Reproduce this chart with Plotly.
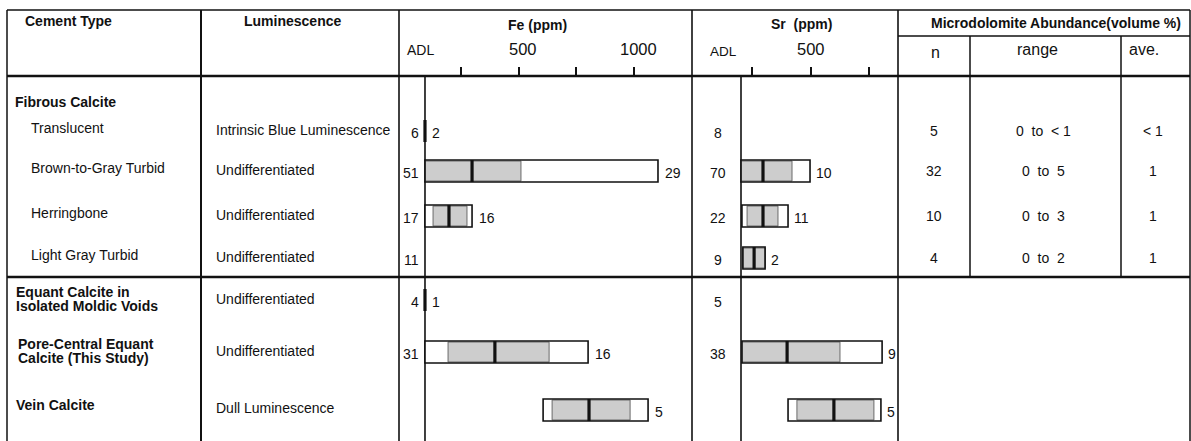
import plotly.graph_objects as go

# ---------------- data ----------------
cement_groups = ["Fibrous Calcite"]
cement_types = ["Translucent", "Brown-to-Gray Turbid", "Herringbone", "Light Gray Turbid",
                "Equant Calcite in|Isolated Moldic Voids", "Pore-Central Equant|Calcite (This Study)",
                "Vein Calcite"]
luminescence = ["Intrinsic Blue Luminescence", "Undifferentiated", "Undifferentiated",
                "Undifferentiated", "Undifferentiated", "Undifferentiated", "Dull Luminescence"]

ADL_FE = 94
ADL_SR = 203

fe_n_below = [6, 51, 17, 11, 4, 31, None]
fe_n_above = [2, 29, 16, None, 1, 16, 5]
fe_min = [None, 94, 94, None, None, 94, 606]
fe_max = [None, 1104, 298, None, None, 801, 1061]
fe_sd_lo = [None, 94, 129, None, None, 194, 645]
fe_sd_hi = [None, 510, 276, None, None, 632, 983]
fe_mean = [94, 298, 198, None, 94, 397, 805]

sr_n_below = [8, 70, 22, 9, 5, 38, None]
sr_n_above = [None, 10, 11, 2, None, 9, 5]
sr_min = [None, 203, 207, 211, None, 207, 404]
sr_max = [None, 498, 404, 306, None, 806, 801]
sr_sd_lo = [None, 203, 229, 211, None, 207, 442]
sr_sd_hi = [None, 421, 361, 306, None, 626, 771]
sr_mean = [None, 297, 297, 259, None, 400, 600]

md_n = ["5", "32", "10", "4"]
md_range = ["0  to  < 1", "0  to  5", "0  to  3", "0  to  2"]
md_ave = ["< 1", "1", "1", "1"]

fe_ticks = [250, 500, 750, 1000]
fe_tick_labels = {500: "500", 1000: "1000"}
sr_ticks = [250, 500, 750]
sr_tick_labels = {500: "500"}

# ---------------- layout constants ----------------
W, H = 1191, 441
def X(px): return px / W
def Y(py): return 1 - py / H

HEAD_BOT = 76
row_pos = [131, 171, 216, 258, 300, 352, 410]   # vertical slot of each row (px units of y axis)
BAR_H = 22
FONT = "Liberation Sans, Arial, Helvetica, sans-serif"
BLACK = "#111111"
GRAY_FILL = "#cdcdcd"
GRAY_LINE = "#6a6a6a"
FS = 14

fe_range = [(399 - 403.3) / 0.2307, (692 - 403.3) / 0.2307]
sr_range = [(692 - 693.5) / 0.234, (898 - 693.5) / 0.234]

fig = go.Figure()

def add_bars(xa, mins, maxs, lo, hi, means):
    idx = [i for i, v in enumerate(mins) if v is not None]
    ys = [row_pos[i] for i in idx]
    fig.add_trace(go.Bar(orientation="h", y=ys, base=[mins[i] for i in idx],
                         x=[maxs[i] - mins[i] for i in idx], width=BAR_H,
                         marker=dict(color="white", line=dict(width=0)),
                         xaxis=xa, yaxis="y", hoverinfo="skip", showlegend=False))
    idx2 = [i for i, v in enumerate(lo) if v is not None]
    fig.add_trace(go.Bar(orientation="h", y=[row_pos[i] for i in idx2], base=[lo[i] for i in idx2],
                         x=[hi[i] - lo[i] for i in idx2], width=BAR_H - 2,
                         marker=dict(color=GRAY_FILL, line=dict(color=GRAY_LINE, width=1)),
                         xaxis=xa, yaxis="y", hoverinfo="skip", showlegend=False))
    fig.add_trace(go.Bar(orientation="h", y=ys, base=[mins[i] for i in idx],
                         x=[maxs[i] - mins[i] for i in idx], width=BAR_H,
                         marker=dict(color="rgba(0,0,0,0)", line=dict(color=BLACK, width=1.6)),
                         xaxis=xa, yaxis="y", hoverinfo="skip", showlegend=False))
    mx, my = [], []
    for i, m in enumerate(means):
        if m is None:
            continue
        mx += [m, m, None]
        my += [row_pos[i] - BAR_H / 2, row_pos[i] + BAR_H / 2, None]
    fig.add_trace(go.Scatter(x=mx, y=my, mode="lines", line=dict(color=BLACK, width=3.2),
                             xaxis=xa, yaxis="y", hoverinfo="skip", showlegend=False))

add_bars("x", fe_min, fe_max, fe_sd_lo, fe_sd_hi, fe_mean)
add_bars("x2", sr_min, sr_max, sr_sd_lo, sr_sd_hi, sr_mean)

ann = []
def txt(text, x, y, xanchor="left", size=FS, bold=False, xref="paper", yref="paper",
        xshift=0, yshift=0):
    ann.append(dict(text=f"<b>{text}</b>" if bold else text, x=x, y=y, xref=xref, yref=yref,
                    xanchor=xanchor, yanchor="middle", showarrow=False, xshift=xshift,
                    yshift=yshift, font=dict(family=FONT, size=size, color=BLACK)))

# header
txt("Cement Type", X(23), Y(21), bold=True)
txt("Luminescence", X(242), Y(21), bold=True)
txt("Fe (ppm)", X(537), Y(25), xanchor="center", bold=True)
txt("Sr  (ppm)", X(801), Y(24), xanchor="center", bold=True)
txt("Microdolomite Abundance(volume %)", X(1056), Y(23), xanchor="center", bold=True)
txt("n", X(935), Y(53), xanchor="center", size=16)
txt("range", X(1037), Y(50), xanchor="center", size=16)
txt("ave.", X(1127), Y(50), xanchor="left", size=16)
txt("ADL", X(405), Y(50), size=14)
txt("ADL", X(708), Y(51), size=13.5)
for v, lab in fe_tick_labels.items():
    txt(lab, v, Y(49), xanchor="center", xref="x", size=16.5, xshift=4)
for v, lab in sr_tick_labels.items():
    txt(lab, v, Y(49), xanchor="center", xref="x2", size=16.5, xshift=1)

# cement type column
txt(cement_groups[0], X(13), Y(102), bold=True)
for i, name in enumerate(cement_types):
    if "|" in name:
        l1, l2 = name.split("|")
        xx = X(14) if i == 4 else X(16)
        txt(l1, xx, row_pos[i], yref="y", bold=True, yshift=8)
        txt(l2, xx, row_pos[i], yref="y", bold=True, yshift=-6)
    elif i == len(cement_types) - 1:
        txt(name, X(14), row_pos[i], yref="y", bold=True, yshift=5)
    else:
        txt(name, X(29), row_pos[i], yref="y", yshift=3)

# luminescence column
for i, lum in enumerate(luminescence):
    txt(lum, X(214), row_pos[i], yref="y", yshift=1 if i < 6 else 2)

# count labels
for i in range(len(row_pos)):
    if fe_n_below[i] is not None:
        txt(str(fe_n_below[i]), ADL_FE, row_pos[i], xref="x", yref="y", xanchor="right",
            xshift=-4, yshift=-2)
    if fe_n_above[i] is not None:
        xe = fe_max[i] if fe_max[i] is not None else ADL_FE
        txt(str(fe_n_above[i]), xe, row_pos[i], xref="x", yref="y", xshift=5, yshift=-2)
    if sr_n_below[i] is not None:
        txt(str(sr_n_below[i]), ADL_SR, row_pos[i], xref="x2", yref="y", xanchor="center",
            xshift=-23, yshift=-2)
    if sr_n_above[i] is not None:
        xe = sr_max[i] if sr_max[i] is not None else ADL_SR
        txt(str(sr_n_above[i]), xe, row_pos[i], xref="x2", yref="y", xshift=4, yshift=-2)

# microdolomite
for i in range(len(md_n)):
    txt(md_n[i], X(934), row_pos[i], yref="y", xanchor="center")
    txt(md_range[i], X(1043), row_pos[i], yref="y", xanchor="center")
    txt(md_ave[i], X(1153), row_pos[i], yref="y", xanchor="center")

# table lines
shapes = []
def line(x0, y0, x1, y1, w=1.5):
    shapes.append(dict(type="line", xref="paper", yref="paper", x0=X(x0), x1=X(x1),
                       y0=Y(y0), y1=Y(y1), line=dict(color=BLACK, width=w)))

line(7, 10, 1190, 10, 1.6)
line(7, 10, 7, H, 1.5)
line(1190, 10, 1190, H, 1.5)
line(7, HEAD_BOT, 1190, HEAD_BOT, 2.5)
line(7, 277, 1190, 277, 2.5)
line(201, 10, 201, H, 2)
line(399, 10, 399, H, 1.6)
line(692, 10, 692, H, 1.6)
line(898, 10, 898, H, 1.6)
line(898, 36, 1190, 36, 1.5)
line(970, 36, 970, 277, 1.5)
line(1121, 36, 1121, 277, 1.5)
shapes.append(dict(type="line", xref="x", yref="paper", x0=ADL_FE, x1=ADL_FE, y0=0, y1=Y(HEAD_BOT),
                   line=dict(color=BLACK, width=1.6), layer="below"))
shapes.append(dict(type="line", xref="x2", yref="paper", x0=ADL_SR, x1=ADL_SR, y0=0, y1=Y(HEAD_BOT),
                   line=dict(color=BLACK, width=1.6), layer="below"))

axis_common = dict(side="top", anchor="y", ticks="outside", ticklen=8, tickwidth=1.5,
                   tickcolor=BLACK, showticklabels=False, showgrid=False, zeroline=False,
                   showline=False, fixedrange=True)

fig.update_layout(
    width=W, height=H, margin=dict(l=0, r=0, t=0, b=0),
    paper_bgcolor="white", plot_bgcolor="rgba(0,0,0,0)",
    barmode="overlay", showlegend=False,
    xaxis=dict(domain=[X(399), X(692)], range=fe_range, tickvals=fe_ticks, **axis_common),
    xaxis2=dict(domain=[X(692), X(898)], range=sr_range, tickvals=sr_ticks, **axis_common),
    yaxis=dict(domain=[0, Y(HEAD_BOT)], range=[H, HEAD_BOT], showgrid=False, zeroline=False,
               showticklabels=False, showline=False, ticks="", fixedrange=True),
    annotations=ann, shapes=shapes,
)

fig.write_html("out.html")
